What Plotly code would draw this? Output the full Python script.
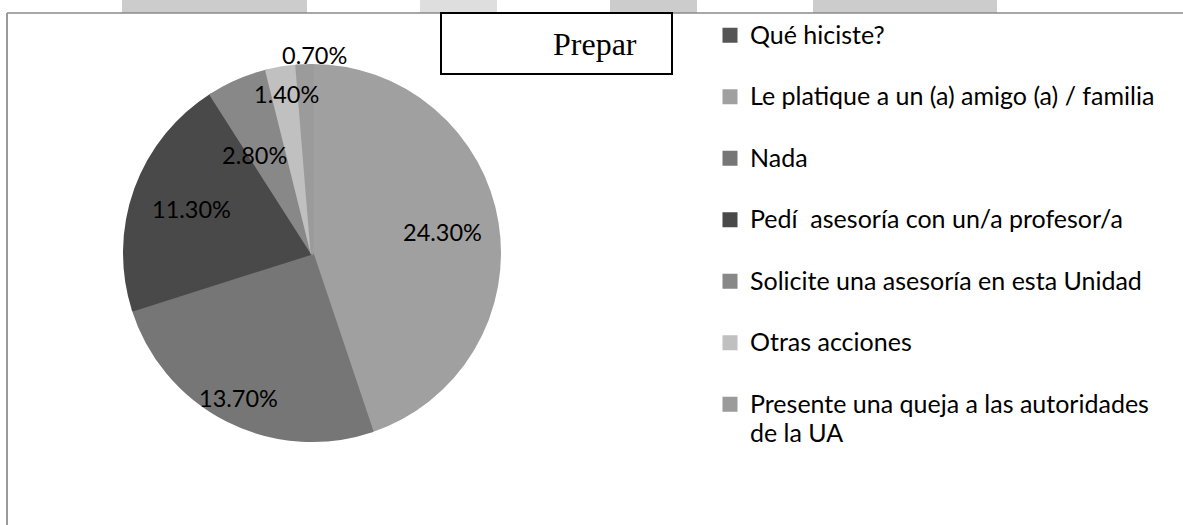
import math
import plotly.graph_objects as go

# ---- data ----
labels = [
    "Qué hiciste?",
    "Le platique a un (a) amigo (a) / familia",
    "Nada",
    "Pedí  asesoría con un/a profesor/a",
    "Solicite una asesoría en esta Unidad",
    "Otras acciones",
    "Presente una queja a las autoridades de la UA",
]
values = [0, 24.3, 13.7, 11.3, 2.8, 1.4, 0.7]
colors = ["#555555", "#a0a0a0", "#767676", "#494949", "#888888", "#c0c0c0", "#9b9b9b"]

# legend text (line breaks as in the original legend)
legend_text = [
    "Qué hiciste?",
    "Le platique a un (a) amigo (a) / familia",
    "Nada",
    "Pedí  asesoría con un/a profesor/a",
    "Solicite una asesoría en esta Unidad",
    "Otras acciones",
    "Presente una queja a las autoridades<br>de la UA",
]

# ---- style / geometry ----
W, H = 1183, 525
CX, CY, R = 312, 253, 187.5          # pie centre and radius (pixels)
LEG_FONT = 22.5                      # sets legend row spacing
LEG_TEXT = 25                        # visible legend text size
LBL_FONT = 23.5
FONT = "Lato, 'Open Sans', sans-serif"
# label placement (radial factor, angular nudge in degrees) per slice
label_style = [None, (0.70, 0), (0.86, 0), (0.68, 0), (0.60, -7), (0.85, 0), (1.05, 3)]


def fx(x):
    return x / W


def fy(y):
    return 1 - y / H


legend_labels = [
    f'<span style="font-size:{LEG_TEXT}px">' + t.replace("<br>", f'</span><br><span style="font-size:{LEG_TEXT}px">') + "</span>"
    + ("<br> " if i < len(legend_text) - 1 else "")
    for i, t in enumerate(legend_text)
]

dom_x = [fx(CX - R), fx(CX + R)]
dom_y = [fy(CY + R), fy(CY - R)]

fig = go.Figure(
    go.Pie(
        labels=legend_labels,
        values=values,
        marker=dict(colors=colors, line=dict(width=3, color=colors)),
        sort=False,
        direction="clockwise",
        rotation=0,
        textinfo="none",
        hoverinfo="value",
        domain=dict(x=dom_x, y=dom_y),
    )
)

# data labels computed from the values
total = sum(values)
cum = 0.0
annotations = []
for v, st in zip(values, label_style):
    start = cum
    cum += v
    if v <= 0 or st is None:
        continue
    rf, nudge = st
    theta = math.radians((start + v / 2) / total * 360 + nudge)
    px = CX + rf * 189 * math.sin(theta)
    py = CY - rf * 189 * math.cos(theta)
    annotations.append(dict(
        x=fx(px), y=fy(py), xref="paper", yref="paper",
        text=f"{v:.2f}%", showarrow=False,
        font=dict(family=FONT, size=LBL_FONT, color="#000000"),
        xanchor="center", yanchor="middle",
    ))

# title box text
annotations.append(dict(
    x=fx(639), y=fy(44), xref="paper", yref="paper",
    text="Prepar", showarrow=False, xanchor="right", yanchor="middle",
    font=dict(family="'Liberation Serif', 'Times New Roman', serif", size=32, color="#000000"),
))


def px_rect(x0, y0, x1, y1, **kw):
    return dict(type="rect", xref="paper", yref="paper",
                x0=fx(x0), x1=fx(x1), y0=fy(y1), y1=fy(y0), **kw)


def px_line(x0, y0, x1, y1, **kw):
    return dict(type="line", xref="paper", yref="paper",
                x0=fx(x0), x1=fx(x1), y0=fy(y0), y1=fy(y1), **kw)


shapes = [
    # faded band fragments at the very top
    px_rect(122, 0, 307, 13, fillcolor="#cccccc", line=dict(width=0), layer="below"),
    px_rect(420, 0, 497, 13, fillcolor="#dedede", line=dict(width=0), layer="below"),
    px_rect(610, 0, 697, 13, fillcolor="#cccccc", line=dict(width=0), layer="below"),
    px_rect(813, 0, 997, 13, fillcolor="#cccccc", line=dict(width=0), layer="below"),
    # chart border (top and left)
    px_line(7, 13, W, 13, line=dict(color="#8a8a8a", width=1.5)),
    px_line(7, 13, 7, H, line=dict(color="#9a9a9a", width=2)),
    # title box
    px_rect(441, 13, 672, 74, fillcolor="#ffffff", line=dict(color="#000000", width=2), layer="above"),
]

fig.update_layout(
    width=W, height=H,
    margin=dict(l=0, r=0, t=0, b=0),
    paper_bgcolor="#ffffff",
    plot_bgcolor="#ffffff",
    font=dict(family=FONT, color="#000000"),
    showlegend=True,
    legend=dict(
        x=fx(710), y=fy(14), xanchor="left", yanchor="top",
        font=dict(family=FONT, size=LEG_FONT, color="#000000"),
        valign="top", bgcolor="rgba(0,0,0,0)", borderwidth=0,
        itemclick=False, itemdoubleclick=False,
    ),
    annotations=annotations,
    shapes=shapes,
)

fig.write_html(
    "out.html",
    config={"displayModeBar": False},
    post_script="document.body.style.margin='0';document.body.style.overflow='hidden';",
)
